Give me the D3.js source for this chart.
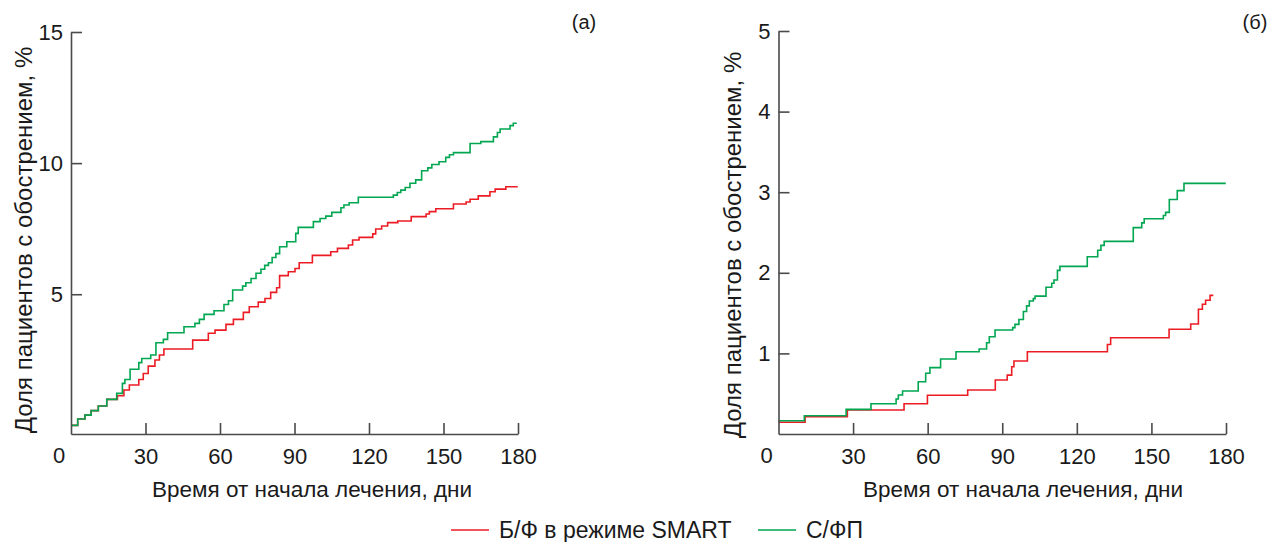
<!DOCTYPE html>
<html>
<head>
<meta charset="utf-8">
<script src="https://cdn.jsdelivr.net/npm/d3@7"></script>
<style>
  body { margin: 0; background: #fff; }
  svg { display: block; font-family: "Liberation Sans", Arial, sans-serif; }
</style>
</head>
<body>
<div id="chart"></div>
<script>
// step points: [day, value after the step]
const seriesNames = ["Б/Ф в режиме SMART", "С/ФП"];
const seriesColors = ["#ec1c24", "#00a650"];
const xTicks = [30, 60, 90, 120, 150, 180];
const yTicksA = [5, 10, 15];
const yTicksB = [1, 2, 3, 4, 5];
const panelLabels = ["(а)", "(б)"];
const xTitle = "Время от начала лечения, дни";
const yTitle = "Доля пациентов с обострением, %";

const panelA_bf = [[0,0],[2.7,0.24],[5.6,0.39],[8.1,0.56],[11.0,0.74],[14.4,0.99],[18.7,1.13],[21.3,1.35],
  [23.5,1.54],[27.3,1.75],[29.1,1.98],[31.1,2.26],[33.8,2.49],[35.6,2.68],[37.4,2.91],[49.0,3.25],[55.3,3.51],
  [58.0,3.63],[62.4,3.85],[65.4,4.04],[69.4,4.31],[71.8,4.52],[75.4,4.70],[78.1,4.84],[80.4,5.07],[82.8,5.25],
  [84.0,5.71],[87.5,5.86],[90.2,5.98],[91.9,6.20],[97.2,6.48],[104.6,6.62],[107.3,6.75],[111.7,6.88],[113.4,7.07],
  [116.0,7.17],[121.5,7.30],[122.7,7.49],[125.1,7.60],[127.5,7.73],[131.6,7.79],[137.0,7.96],[143.0,8.06],
  [144.3,8.15],[146.9,8.26],[154.0,8.44],[159.1,8.52],[160.7,8.62],[164.0,8.75],[168.7,8.91],[170.8,9.01],
  [175.1,9.10],[179.9,9.10]];

const panelA_sfp = [[0,0],[2.7,0.24],[5.6,0.39],[8.1,0.56],[11.0,0.74],[14.4,0.99],[18.4,1.22],[20.7,1.6],
  [21.7,1.75],[23.8,2.14],[27.3,2.39],[28.5,2.55],[32.1,2.68],[34.2,3.15],[37.2,3.28],[38.9,3.53],[45.5,3.76],
  [49.9,3.89],[51.7,4.04],[53.6,4.23],[57.6,4.37],[61.6,4.61],[63.4,4.75],[65.1,5.16],[69.1,5.31],[70.4,5.44],
  [72.5,5.6],[74.5,5.8],[76.5,5.95],[78.0,6.1],[79.5,6.2],[81.0,6.4],[82.5,6.55],[84.0,6.81],[86.9,7.0],
  [90.5,7.32],[91.5,7.55],[97.6,7.77],[100.3,7.89],[102.6,7.98],[105.0,8.12],[108.7,8.30],[109.9,8.40],
  [112.0,8.49],[115.7,8.70],[129.8,8.78],[131.4,8.88],[132.8,8.97],[134.6,9.07],[136.5,9.23],[138.8,9.36],
  [141.2,9.71],[143.7,9.82],[145.3,9.95],[148.2,10.05],[150.9,10.22],[152.4,10.32],[154.0,10.40],[160.7,10.75],
  [165.0,10.82],[170.1,11.0],[171.7,11.17],[172.8,11.30],[176.8,11.43],[178.1,11.52],[179.5,11.52]];

const panelB_bf = [[0,0.145],[10.7,0.215],[27.7,0.298],[50.5,0.376],[59.9,0.48],[76.1,0.546],[87.2,0.67],
  [92.0,0.73],[93.8,0.835],[94.7,0.906],[100.1,1.02],[132.3,1.11],[133.6,1.195],[157.1,1.30],[165.8,1.365],
  [168.9,1.547],[170.5,1.61],[171.8,1.66],[173.6,1.72],[174.9,1.72]];

const panelB_sfp = [[0,0.165],[10.4,0.227],[27.2,0.306],[37.2,0.376],[47.3,0.434],[48.2,0.484],[49.9,0.533],
  [56.2,0.649],[59.2,0.753],[60.9,0.823],[65.2,0.93],[71.4,1.02],[80.7,1.055],[83.7,1.133],[84.8,1.207],
  [87.1,1.29],[94.2,1.32],[95.1,1.36],[96.7,1.42],[98.5,1.52],[99.8,1.59],[100.9,1.65],[102.5,1.68],
  [103.2,1.71],[107.6,1.82],[109.9,1.87],[110.8,1.91],[112.2,2.03],[113.2,2.08],[124.2,2.20],[128.4,2.28],
  [129.7,2.34],[131.0,2.39],[142.7,2.56],[146.1,2.62],[147.1,2.67],[154.8,2.71],[155.7,2.75],[157.2,2.91],
  [160.4,3.02],[163.1,3.11],[179.9,3.11]];

const width = 1280, height = 542;
const axisColor = "#4a4a4a";
const textColor = "#1a1a1a";

const svg = d3.select("#chart")
    .append("svg")
    .attr("width", width)
    .attr("height", height);

function drawPanel(o) {
    const x = d3.scaleLinear().domain([0, 180]).range([o.left, o.right]);
    const y = d3.scaleLinear().domain([o.yMin, o.yMax]).range([434, o.top]);

    const line = d3.line()
        .x(d => x(d[0]))
        .y(d => y(d[1]))
        .curve(d3.curveStepAfter);

    o.series.forEach((s, i) => {
        svg.append("path")
            .datum(s)
            .attr("fill", "none")
            .attr("stroke", seriesColors[i])
            .attr("stroke-width", 1.6)
            .attr("d", line);
    });

    const gx = svg.append("g")
        .attr("transform", `translate(0,434)`)
        .call(d3.axisBottom(x).tickValues(xTicks).tickSizeInner(-11).tickSizeOuter(0).tickPadding(14));
    const gy = svg.append("g")
        .attr("transform", `translate(${o.left},0)`)
        .call(d3.axisLeft(y).tickValues(o.yTicks).tickFormat(d3.format("d"))
            .tickSizeInner(-11).tickSizeOuter(0).tickPadding(8));

    [gx, gy].forEach(g => {
        g.selectAll("path, line").attr("stroke", axisColor).attr("stroke-width", 1.6);
        g.selectAll("text").attr("fill", textColor).style("font-size", "22px").attr("font-family", null);
    });

    svg.append("text")
        .attr("x", o.left - 12)
        .attr("y", 463)
        .attr("text-anchor", "middle")
        .attr("fill", textColor)
        .style("font-size", "22px")
        .text("0");

    svg.append("text")
        .attr("x", o.xTitleX)
        .attr("y", 497)
        .attr("text-anchor", "middle")
        .attr("fill", textColor)
        .style("font-size", "22.5px")
        .text(xTitle);

    svg.append("text")
        .attr("transform", `translate(${o.yTitleX},${o.yTitleY}) rotate(-90)`)
        .attr("text-anchor", "middle")
        .attr("fill", textColor)
        .style("font-size", "24px")
        .text(yTitle);

    svg.append("text")
        .attr("x", o.labelX)
        .attr("y", 29)
        .attr("text-anchor", "middle")
        .attr("fill", textColor)
        .style("font-size", "20px")
        .text(o.label);
}

drawPanel({left: 71, right: 518, top: 32, yMin: -0.33, yMax: 15, yTicks: yTicksA,
    series: [panelA_bf, panelA_sfp], xTitleX: 312, yTitleX: 32, yTitleY: 240, labelX: 584, label: panelLabels[0]});
drawPanel({left: 778.5, right: 1226, top: 31, yMin: 0, yMax: 5, yTicks: yTicksB,
    series: [panelB_bf, panelB_sfp], xTitleX: 1023, yTitleX: 741, yTitleY: 245, labelX: 1255, label: panelLabels[1]});

// legend
const legendX = [451, 758];
const legend = svg.append("g");
seriesNames.forEach((name, i) => {
    legend.append("line")
        .attr("x1", legendX[i]).attr("x2", legendX[i] + 38)
        .attr("y1", 530).attr("y2", 530)
        .attr("stroke", seriesColors[i])
        .attr("stroke-width", 1.6);
    legend.append("text")
        .attr("x", legendX[i] + 48)
        .attr("y", 538)
        .attr("fill", textColor)
        .style("font-size", "23px")
        .text(name);
});
</script>
</body>
</html>
